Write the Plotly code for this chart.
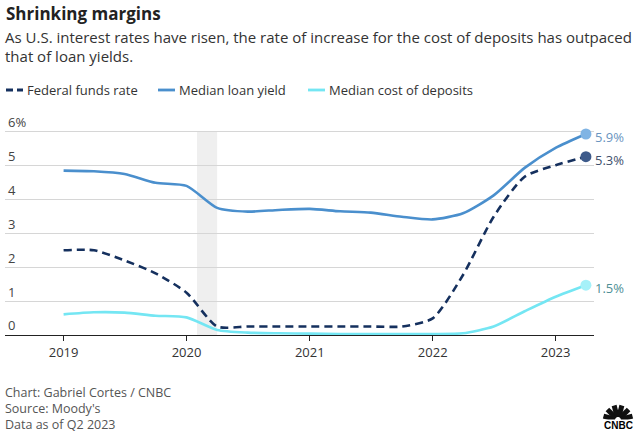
import math
import plotly.graph_objects as go

quarters = ["2019-01-01", "2019-04-01", "2019-07-01", "2019-10-01",
            "2020-01-01", "2020-04-01", "2020-07-01", "2020-10-01",
            "2021-01-01", "2021-04-01", "2021-07-01", "2021-10-01",
            "2022-01-01", "2022-04-01", "2022-07-01", "2022-10-01",
            "2023-01-01", "2023-04-01"]
fed_funds = [2.50, 2.50, 2.20, 1.82, 1.25, 0.25, 0.25, 0.25, 0.25,
             0.25, 0.25, 0.25, 0.49, 1.77, 3.49, 4.67, 5.01, 5.26]
loan_yield = [4.85, 4.83, 4.75, 4.49, 4.40, 3.75, 3.64, 3.69, 3.72,
              3.65, 3.61, 3.49, 3.41, 3.59, 4.12, 4.93, 5.52, 5.93]
deposit_cost = [0.61, 0.67, 0.66, 0.57, 0.52, 0.15, 0.07, 0.05, 0.04,
                0.03, 0.03, 0.03, 0.03, 0.05, 0.25, 0.70, 1.13, 1.47]
end_labels = {"fed": "5.3%", "loan": "5.9%", "dep": "1.5%"}
series_names = ["Federal funds rate", "Median loan yield", "Median cost of deposits"]
y_ticks = [0, 1, 2, 3, 4, 5, 6]
y_tick_text = ["0", "1", "2", "3", "4", "5", "6%"]
x_ticks = ["2019-01-01", "2020-01-01", "2021-01-01", "2022-01-01", "2023-01-01"]
x_tick_text = ["2019", "2020", "2021", "2022", "2023"]
recession = ["2020-02-01", "2020-04-01"]

FONT = "Open Sans"
C_FED, C_LOAN, C_DEP = "#15305e", "#4a8fcd", "#74e6f3"
M_FED, M_LOAN, M_DEP = "#3d5a8a", "#80b4e4", "#a6f1f9"
T_FED, T_LOAN, T_DEP = "#3e4f6c", "#6a94c0", "#4e8f96"

W, H = 642, 436
L, R, T, B = 5, 48, 113, 101
PW, PH = W - L - R, H - T - B


def px_x(p):
    return (p - L) / PW


def px_y(p):
    return (H - B - p) / PH


fig = go.Figure()
series = [(fed_funds, C_FED, M_FED, T_FED, "fed", "8px,5px"),
          (loan_yield, C_LOAN, M_LOAN, T_LOAN, "loan", "solid"),
          (deposit_cost, C_DEP, M_DEP, T_DEP, "dep", "solid")]
for (vals, c, mc, tc, key, dash), name in zip(series, series_names):
    fig.add_trace(go.Scatter(x=quarters, y=vals, mode="lines", name=name,
                             line=dict(color=c, width=2.6, dash=dash, shape="spline", smoothing=0.65),
                             showlegend=False, hoverinfo="skip"))
    fig.add_trace(go.Scatter(x=[quarters[-1]], y=[vals[-1]], mode="markers",
                             marker=dict(color=mc, size=11), showlegend=False,
                             cliponaxis=False, hoverinfo="skip"))
    fig.add_annotation(x=quarters[-1], y=vals[-1], xref="x", yref="y",
                       text=end_labels[key], showarrow=False, xanchor="left",
                       xshift=7, yshift=-3, font=dict(family=FONT, size=13, color=tc))

fig.add_shape(type="rect", xref="x", yref="y", x0=recession[0], x1=recession[1],
              y0=0, y1=6, fillcolor="#efefef", line_width=0, layer="below")

# title/subtitle
fig.add_annotation(xref="paper", yref="paper", x=px_x(4), y=px_y(14), text="<b>Shrinking margins</b>",
                   showarrow=False, xanchor="left", yanchor="middle",
                   font=dict(family=FONT, size=17, color="#222"))
fig.add_annotation(xref="paper", yref="paper", x=px_x(3), y=px_y(37),
                   text="As U.S. interest rates have risen, the rate of increase for the cost of deposits has outpaced",
                   showarrow=False, xanchor="left", yanchor="middle",
                   font=dict(family=FONT, size=15, color="#333"))
fig.add_annotation(xref="paper", yref="paper", x=px_x(3), y=px_y(56),
                   text="that of loan yields.",
                   showarrow=False, xanchor="left", yanchor="middle",
                   font=dict(family=FONT, size=15, color="#333"))

# legend
leg_x = [6, 158, 308]
leg_cols = [C_FED, C_LOAN, C_DEP]
leg_dash = ["7px,4px", "solid", "solid"]
for lx, name, c, d in zip(leg_x, series_names, leg_cols, leg_dash):
    fig.add_shape(type="line", xref="paper", yref="paper", x0=px_x(lx), x1=px_x(lx + 17),
                  y0=px_y(90), y1=px_y(90), line=dict(color=c, width=2.8, dash=d))
    fig.add_annotation(xref="paper", yref="paper", x=px_x(lx + 19), y=px_y(90), text=name,
                       showarrow=False, xanchor="left", yanchor="middle",
                       font=dict(family=FONT, size=13, color="#333"))

# footer
for i, t in enumerate(["Chart: Gabriel Cortes / CNBC", "Source: Moody's", "Data as of Q2 2023"]):
    fig.add_annotation(xref="paper", yref="paper", x=px_x(3), y=px_y(392 + 16 * i), text=t,
                       showarrow=False, xanchor="left", yanchor="middle",
                       font=dict(family=FONT, size=12.5, color="#555"))

# CNBC mark: peacock feathers + wordmark
cx, cy = 618, 420
for k in range(6):
    ang = math.radians(165 - k * 30)
    sx, sy = cx + 3 * math.cos(ang), cy - 3 * math.sin(ang)
    ex, ey = cx + 15 * math.cos(ang), cy - 15 * math.sin(ang)
    fig.add_shape(type="line", xref="paper", yref="paper", x0=px_x(sx), y0=px_y(sy),
                  x1=px_x(ex), y1=px_y(ey), line=dict(color="#111", width=5))
fig.add_annotation(xref="paper", yref="paper", x=px_x(618), y=px_y(425), text="<b>CNBC</b>",
                   showarrow=False, xanchor="center", yanchor="middle", bgcolor="white",
                   borderpad=0, font=dict(family="Liberation Sans", size=10, color="#000"))

fig.update_layout(
    width=W, height=H, margin=dict(l=L, r=R, t=T, b=B),
    paper_bgcolor="white", plot_bgcolor="white",
    showlegend=False,
    xaxis=dict(type="date", range=["2018-07-11", "2023-04-25"], tickvals=x_ticks, ticktext=x_tick_text,
               showgrid=False, zeroline=False, showline=True, linecolor="#222", linewidth=1,
               ticks="outside", ticklen=5, tickcolor="#222",
               tickfont=dict(family=FONT, size=13, color="#333")),
    yaxis=dict(range=[0, 6.55], tickvals=y_ticks, ticktext=y_tick_text, ticklabelposition="inside top",
               showgrid=True, gridcolor="#d6d6d6", gridwidth=1, zeroline=False, showline=False,
               ticks="", tickfont=dict(family=FONT, size=13, color="#444")),
)
fig.write_html("out.html", config={"displayModeBar": False},
               post_script="document.body.style.margin='0';")
